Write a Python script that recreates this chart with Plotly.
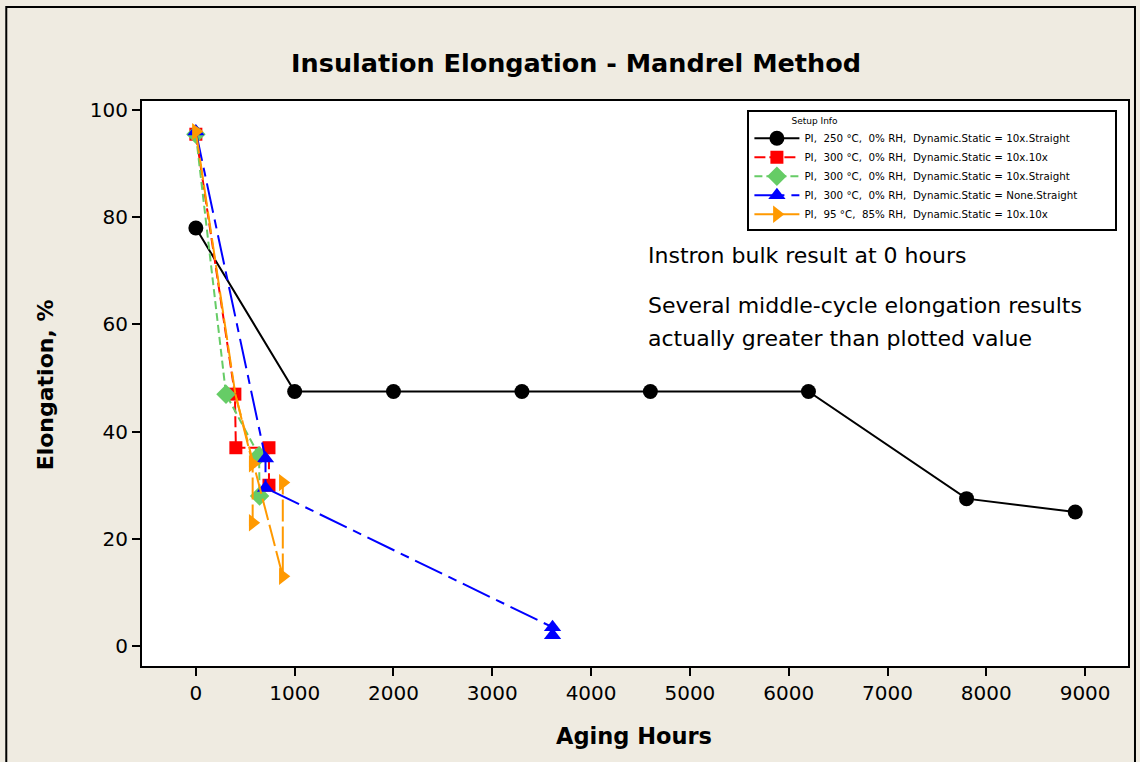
import plotly.graph_objects as go

# Aging hours and elongation (%) per test setup
hours_250_static = [0, 1000, 2000, 3300, 4600, 6200, 7800, 8900]
elong_250_static = [78, 47.5, 47.5, 47.5, 47.5, 47.5, 27.5, 25]

hours_300_10x = [0, 395, 405, 740, 740]
elong_300_10x = [95.5, 47, 37, 37, 30]

hours_300_straight = [0, 305, 640, 645]
elong_300_straight = [95.5, 47, 35.5, 28]

hours_300_none = [0, 705, 705, 3610, 3610]
elong_300_none = [96, 35, 29.5, 3.5, 2]

hours_95_humid = [0, 400, 575, 575, None, 400, 880, 880]
elong_95_humid = [96, 47, 34, 23, None, 47, 13, 30.5]

labels = [
    "PI,  250 °C,  0% RH,  Dynamic.Static = 10x.Straight",
    "PI,  300 °C,  0% RH,  Dynamic.Static = 10x.10x",
    "PI,  300 °C,  0% RH,  Dynamic.Static = 10x.Straight",
    "PI,  300 °C,  0% RH,  Dynamic.Static = None.Straight",
    "PI,  95 °C,  85% RH,  Dynamic.Static = 10x.10x",
]

x_ticks = [0, 1000, 2000, 3000, 4000, 5000, 6000, 7000, 8000, 9000]
y_ticks = [0, 20, 40, 60, 80, 100]

series = [
    (hours_250_static, elong_250_static, "black", "solid", "circle", 15),
    (hours_300_10x, elong_300_10x, "#FF0000", "11px,4px", "square", 13),
    (hours_300_straight, elong_300_straight, "#66CC66", "8px,4px", "diamond", 15),
    (hours_300_none, elong_300_none, "#0000FF", "30px,7px,9px,7px", "triangle-up", 15),
    (hours_95_humid, elong_95_humid, "#FF9900", "22px,5px", "triangle-right", 15),
]

fig = go.Figure()
for (xs, ys, color, dash, symbol, size), name in zip(series, labels):
    colors = color
    if symbol == "triangle-right":
        # the repeated branch vertex carries no marker of its own
        clear = "rgba(0,0,0,0)"
        colors = [color, clear, color, color, clear, clear, color, color]
    label = name.replace("  ", "\u00a0\u00a0") + "\u00a0" * 10
    fig.add_trace(go.Scatter(
        x=xs, y=ys, name=label, mode="lines+markers",
        line=dict(color=color, width=2, dash=dash),
        marker=dict(color=colors, symbol=symbol, size=size, line=dict(width=0)),
    ))

font_main = "DejaVu Sans"

fig.update_layout(
    width=1140, height=762,
    margin=dict(l=142, r=10, t=101, b=96),
    paper_bgcolor="#EFEBE1",
    plot_bgcolor="white",
    font=dict(family=font_main, color="black"),
    title=dict(
        text="<b>Insulation Elongation - Mandrel Method</b>",
        x=0.5053, xanchor="center", y=1 - 63 / 762, yanchor="middle",
        font=dict(size=25.5, family=font_main),
    ),
    legend=dict(
        title=dict(text="\u00a0" * 14 + "Setup Info", font=dict(size=9)),
        x=0.614, xanchor="left", y=0.984, yanchor="top",
        bgcolor="white", bordercolor="black", borderwidth=2,
        font=dict(size=10.3, family=font_main),
        tracegroupgap=0, itemwidth=45,
    ),
    xaxis=dict(
        range=[-545, 9434], tickvals=x_ticks, ticks="outside", ticklen=8,
        tickwidth=1.5, tickcolor="black", showgrid=False, zeroline=False,
        showline=True, linecolor="black", linewidth=2, mirror=True,
        tickfont=dict(size=20),
    ),
    yaxis=dict(
        range=[-3.73, 101.7], tickvals=y_ticks, ticks="outside", ticklen=8,
        tickwidth=1.5, tickcolor="black", showgrid=False, zeroline=False,
        showline=True, linecolor="black", linewidth=2, mirror=True,
        tickfont=dict(size=20),
    ),
    showlegend=True,
)

# axis titles
fig.add_annotation(text="<b>Aging Hours</b>", xref="paper", yref="paper",
                   x=0.499, y=-0.1239, xanchor="center", yanchor="middle",
                   showarrow=False, font=dict(size=22.5))
fig.add_annotation(text="<b>Elongation, %</b>", xref="paper", yref="paper",
                   x=-0.0982, y=0.497, xanchor="center", yanchor="middle",
                   textangle=-90, showarrow=False, font=dict(size=22))

# notes inside the plot
notes = [
    ("Instron bulk result at 0 hours", 255),
    ("Several middle-cycle elongation results", 305),
    ("actually greater than plotted value", 338),
]
for text, py in notes:
    fig.add_annotation(text=text, xref="paper", yref="paper",
                       x=(647 - 142) / 988, y=(666 - py) / 565,
                       xanchor="left", yanchor="middle", showarrow=False,
                       font=dict(size=22))

# outer frame of the graph window
fig.add_shape(type="rect", xref="paper", yref="paper",
              x0=(6 - 142) / 988, x1=(1137 - 142) / 988,
              y0=(666 - 780) / 565, y1=(666 - 7) / 565,
              line=dict(color="black", width=2), layer="below")

fig.write_html("out.html")
